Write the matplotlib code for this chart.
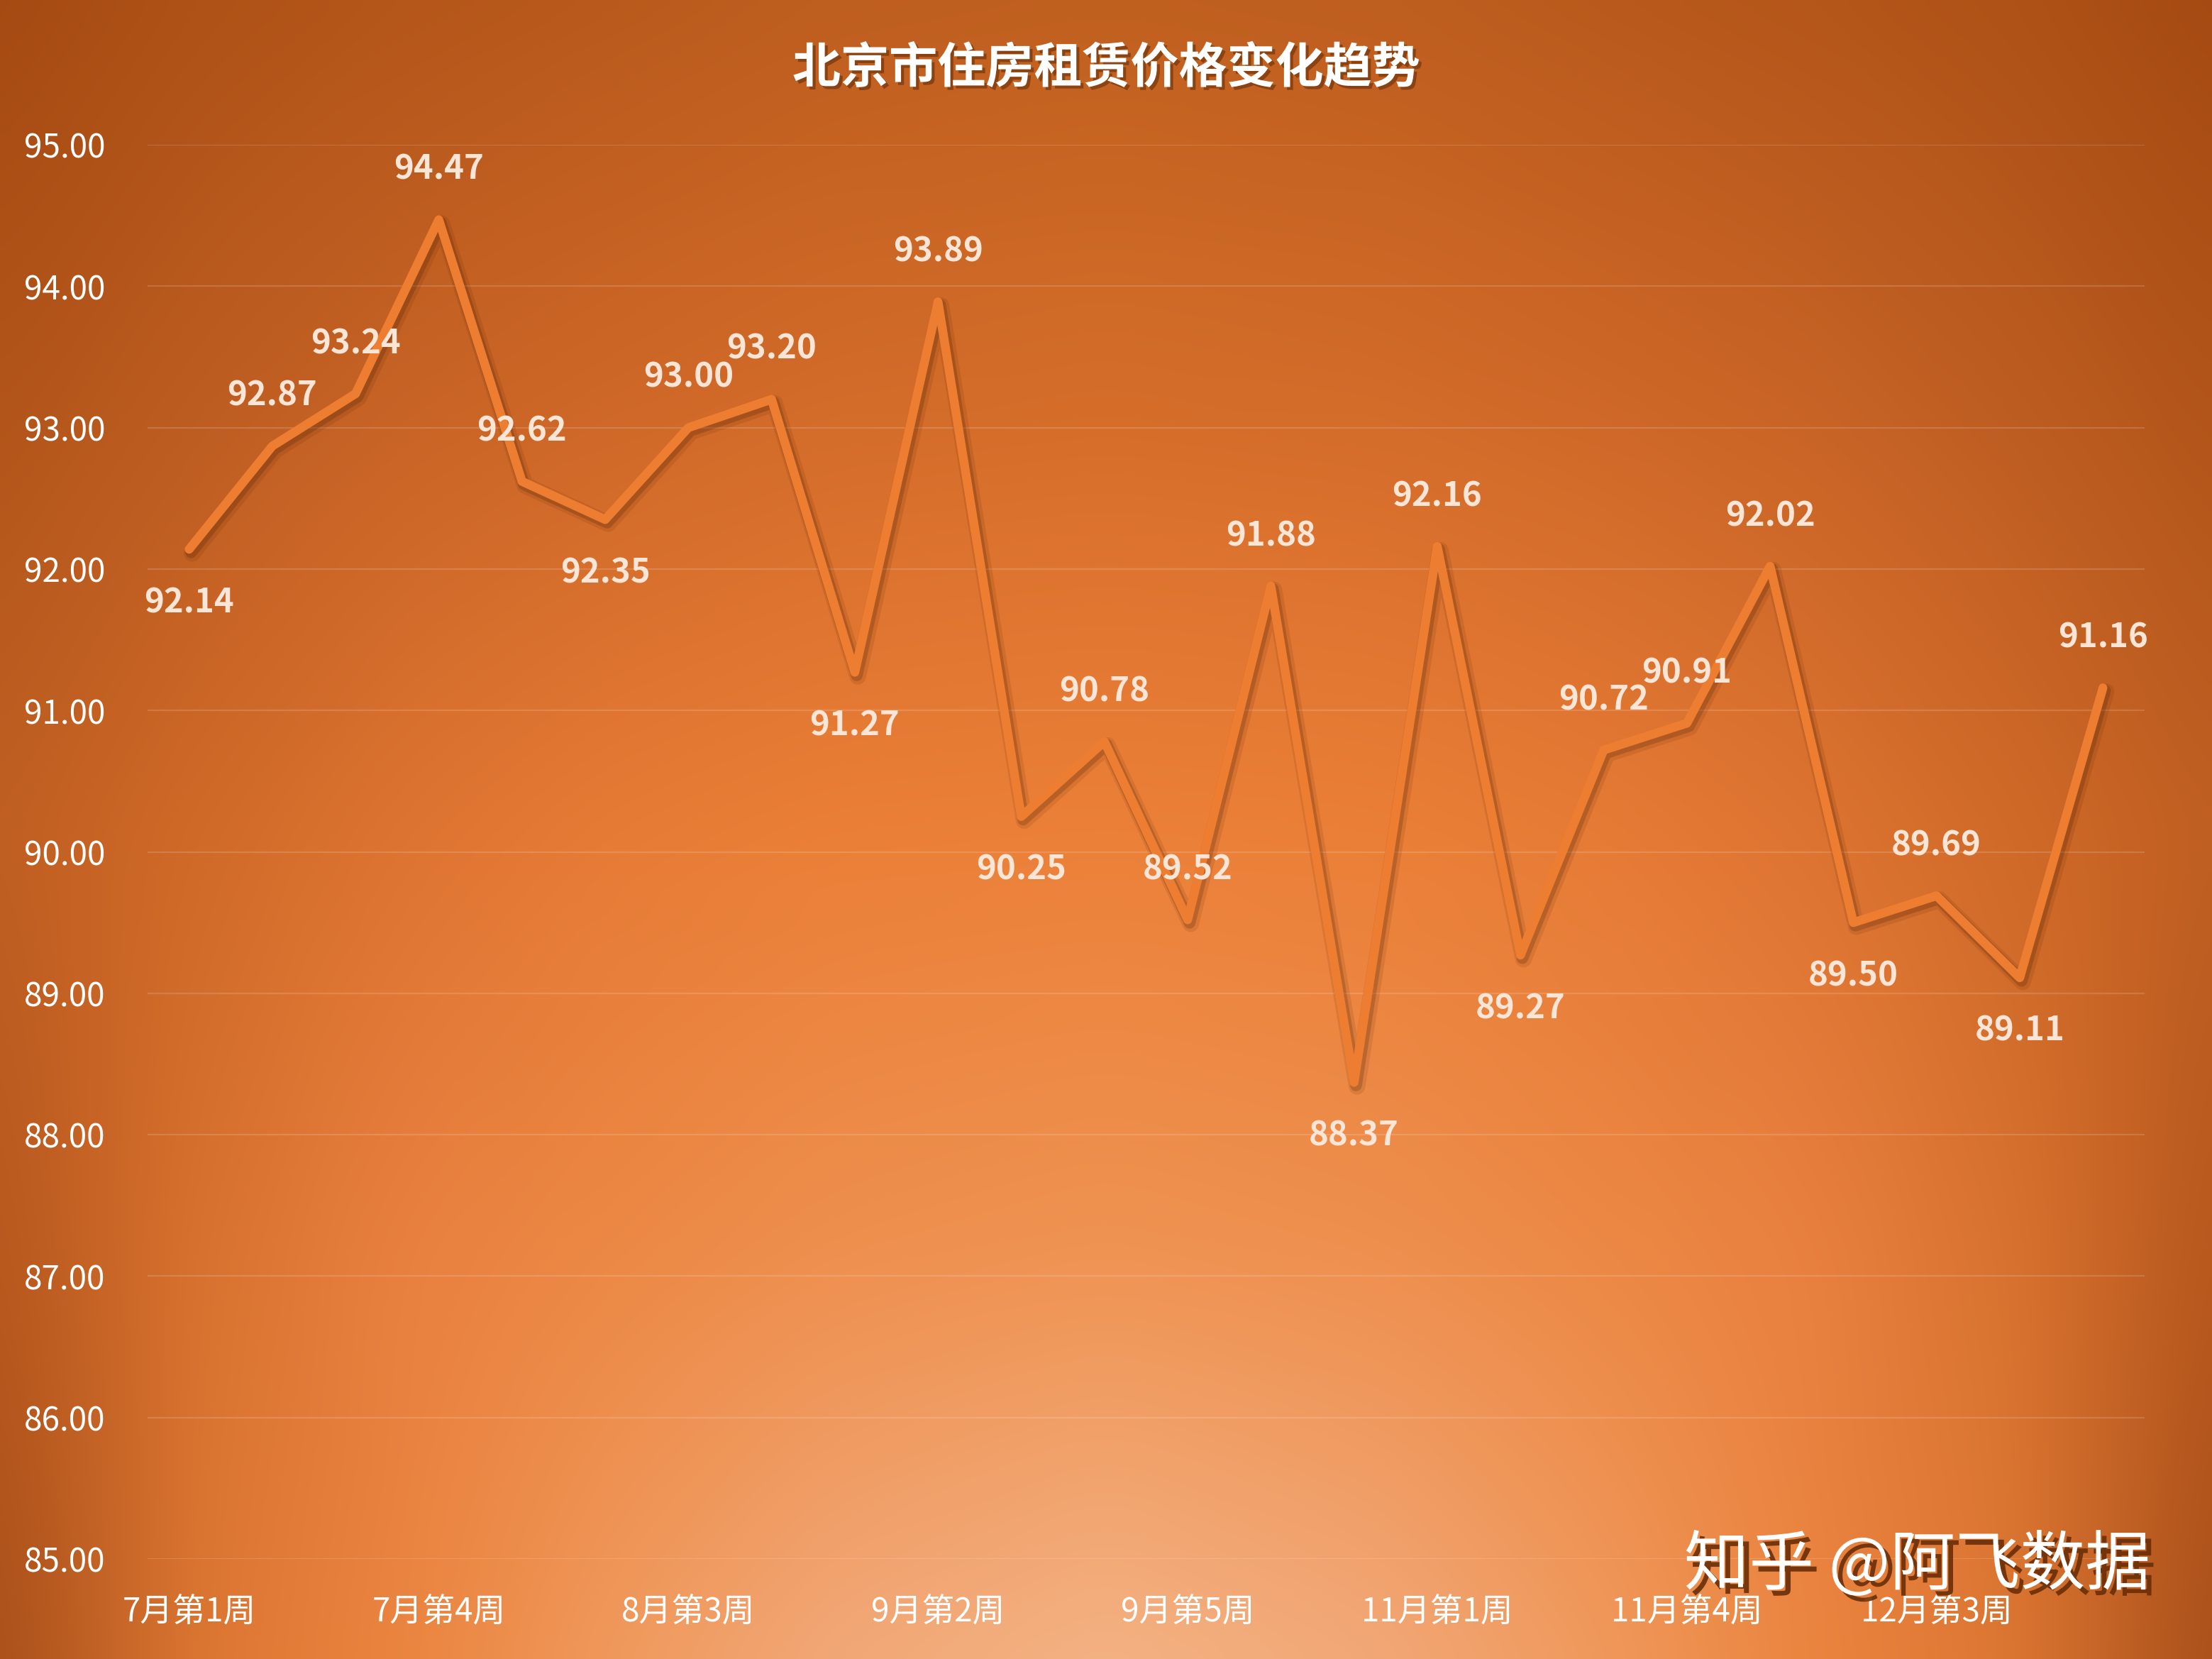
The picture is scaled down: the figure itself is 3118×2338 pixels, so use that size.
import numpy as np
import matplotlib
matplotlib.use("Agg")
import matplotlib.pyplot as plt
import matplotlib.patheffects as pe
from matplotlib.colors import to_rgb

plt.rcParams['font.family'] = ['Noto Sans CJK SC', 'DejaVu Sans']

# weekly rent index values
weeks = ['7月第1周', '7月第2周', '7月第3周', '7月第4周',
         '8月第1周', '8月第2周', '8月第3周', '8月第4周',
         '9月第1周', '9月第2周', '9月第3周', '9月第4周', '9月第5周',
         '10月第2周', '10月第3周',
         '11月第1周', '11月第2周', '11月第3周', '11月第4周',
         '12月第1周', '12月第2周', '12月第3周', '12月第4周', '1月第1周']
values = [92.14, 92.87, 93.24, 94.47, 92.62, 92.35, 93.00, 93.20,
          91.27, 93.89, 90.25, 90.78, 89.52, 91.88, 88.37, 92.16,
          89.27, 90.72, 90.91, 92.02, 89.50, 89.69, 89.11, 91.16]
# where each data label sits relative to its point
label_pos = ['below', 'above', 'above', 'above', 'above', 'below', 'above', 'above',
             'below', 'above', 'below', 'above', 'above', 'above', 'below', 'above',
             'below', 'above', 'above', 'above', 'below', 'above', 'below', 'above']
y_ticks = np.arange(85, 96, 1)

fig = plt.figure(figsize=(31.18, 23.38), dpi=100)

# background: colour grid (distance from centre line x bottom->top), bilinear blend + blur
u_nodes = [0, 0.25, 0.45, 0.63, 0.82, 1.0]
v_nodes = [0, 0.25, 0.5, 0.75, 1.0]
grid = [
    ['#F4B284', '#F2A877', '#F0995C', '#EB8540', '#DC7632', '#A9501A'],
    ['#EF9352', '#EE8F4E', '#EC8844', '#E98040', '#D8722F', '#B8581E'],
    ['#EC8038', '#EB7F37', '#E67B35', '#DE7431', '#D06A28', '#C05F22'],
    ['#D66E2A', '#D46C2A', '#CF6828', '#C86426', '#BE5D22', '#B2551A'],
    ['#C0601F', '#BE5E1F', '#B95A1C', '#B5561A', '#AE5217', '#A54A12'],
]
G = np.array([[to_rgb(c) for c in row] for row in grid])
H, W = 470, 625
u = np.abs(np.linspace(0, 1, W) - 0.5) / 0.5
v = np.linspace(1, 0, H)
rows = np.stack([np.stack([np.interp(u, u_nodes, G[r, :, k]) for k in range(3)], -1)
                 for r in range(len(v_nodes))])          # (nv, W, 3)
img = np.empty((H, W, 3))
for k in range(3):
    for j in range(W):
        img[:, j, k] = np.interp(v, v_nodes, rows[:, j, k])

# soften the kinks of the linear blend
kern = np.exp(-np.linspace(-2.5, 2.5, 61) ** 2)
kern /= kern.sum()
pad = 30
for k in range(3):
    ch = np.pad(img[:, :, k], pad, mode='edge')
    ch = np.apply_along_axis(lambda r: np.convolve(r, kern, mode='same'), 1, ch)
    ch = np.apply_along_axis(lambda c: np.convolve(c, kern, mode='same'), 0, ch)
    img[:, :, k] = ch[pad:-pad, pad:-pad]

bg = fig.add_axes([0, 0, 1, 1], zorder=-1)
bg.imshow(np.clip(img, 0, 1), extent=(0, 1, 0, 1), aspect='auto', interpolation='bilinear')
bg.axis('off')

ax = fig.add_axes([0.0667, 0.0603, 0.9028, 0.8524])
ax.patch.set_alpha(0)

x = np.arange(len(values))
ax.plot(x, values, color='#ED7D31', lw=9, solid_joinstyle='round', solid_capstyle='round',
        zorder=3,
        path_effects=[pe.SimpleLineShadow(offset=(3, -4), shadow_color='#3a1500', alpha=0.10, linewidth=17),
                      pe.SimpleLineShadow(offset=(2, -3), shadow_color='#3a1500', alpha=0.20, linewidth=12),
                      pe.Normal()])

for i, (val, pos) in enumerate(zip(values, label_pos)):
    dy = 51 if pos == 'above' else -54
    ax.annotate(f'{val:.2f}', (i, val), xytext=(0, dy), textcoords='offset points',
                ha='center', va='center', fontsize=34, fontweight='bold', color='#FBE5D6', zorder=4)

ax.set_xlim(-0.5, len(values) - 0.5)
ax.set_ylim(85, 95)
ax.set_yticks(y_ticks)
ax.set_yticklabels([f'{t:.2f}' for t in y_ticks])
ax.set_xticks(x[::3])
ax.set_xticklabels(weeks[::3])
ax.tick_params(axis='both', length=0, labelsize=33, colors='white')
ax.tick_params(axis='y', pad=43)
ax.tick_params(axis='x', pad=36)
ax.yaxis.grid(True, color='white', alpha=0.15, lw=1.6)
ax.set_axisbelow(True)
for s in ax.spines.values():
    s.set_visible(False)

fig.text(0.5, 0.9585, '北京市住房租赁价格变化趋势', ha='center', va='center', fontsize=49,
         fontweight='bold', color='white',
         path_effects=[pe.SimplePatchShadow(offset=(3, -3), shadow_rgbFace='#4a1e00', alpha=0.45), pe.Normal()])

fig.text(0.972, 0.056, '知乎 @阿飞数据', ha='right', va='center', fontsize=66, color='white',
         path_effects=[pe.SimplePatchShadow(offset=(6, -6), shadow_rgbFace='#6a2e08', alpha=0.9), pe.Normal()])

fig.savefig('out.png', dpi=100)
